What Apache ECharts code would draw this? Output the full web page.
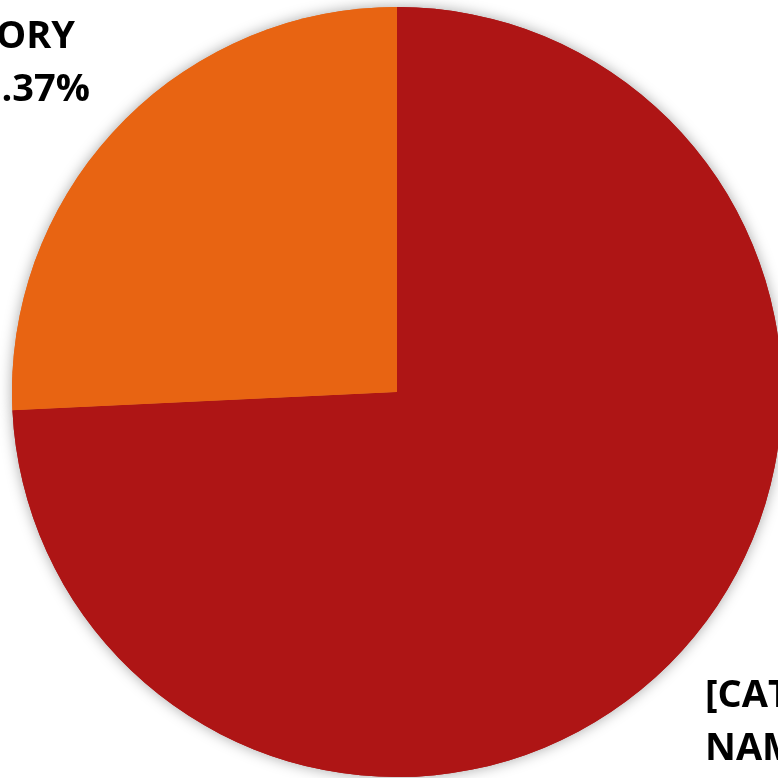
<!DOCTYPE html>
<html>
<head>
<meta charset="utf-8">
<style>html,body{margin:0;padding:0;background:#fff;}#chart{width:778px;height:778px;}</style>
<script src="https://cdn.jsdelivr.net/npm/echarts@6/dist/echarts.min.js"></script>
</head>
<body>
<div id="chart"></div>
<script>
const categories = ['[CATEGORY NAME]', '[CATEGORY NAME]'];
const values = [74.25, 25.75];
const percentLabels = ['74.63%', '25.37%'];
const colors = ['#AE1515', '#E86412'];

const FONT_FAMILY = 'Open Sans';
const FONT_SIZE = 38;

const pieData = categories.map((c, i) => ({name: c, value: values[i], itemStyle: {color: colors[i]}}));

const textStyle = {fontFamily: FONT_FAMILY, fontWeight: 'bold', fontSize: FONT_SIZE, lineHeight: 53, color: '#000'};

const chart = echarts.init(document.getElementById('chart'), null, {renderer: 'canvas'});
chart.setOption({
  backgroundColor: '#ffffff',
  animation: false,
  series: [{
    type: 'pie',
    silent: true,
    z: 1,
    center: [397, 392],
    radius: 385,
    startAngle: 90,
    data: pieData,
    itemStyle: {borderWidth: 0, shadowBlur: 14, shadowColor: 'rgba(0,0,0,0.35)'},
    label: {show: false},
    labelLine: {show: false}
  }, {
    type: 'pie',
    z: 2,
    center: [397, 392],
    radius: 385,
    startAngle: 90,
    clockwise: true,
    data: pieData,
    itemStyle: {borderWidth: 0},
    labelLine: {show: false},
    label: Object.assign({
      show: true,
      position: 'inside',
      overflow: 'none',
      formatter: p => p.dataIndex === 1
        ? '{a1|[CATEGORY}\n{b|NAME] ' + percentLabels[p.dataIndex] + '}'
        : '{a0|[CATEGORY}\n{b|NAME] ' + percentLabels[p.dataIndex] + '}',
      rich: {
        a1: Object.assign({padding: [0, 15, 0, 0]}, textStyle),
        a0: Object.assign({}, textStyle),
        b: Object.assign({}, textStyle)
      }
    }, textStyle),
    labelLayout: function (params) {
      if (params.dataIndex === 1) {
        return {x: 90, y: 11, align: 'right', verticalAlign: 'top', hideOverlap: false};
      }
      return {x: 705, y: 670, align: 'left', verticalAlign: 'top', hideOverlap: false};
    }
  }]
});
</script>
</body>
</html>
